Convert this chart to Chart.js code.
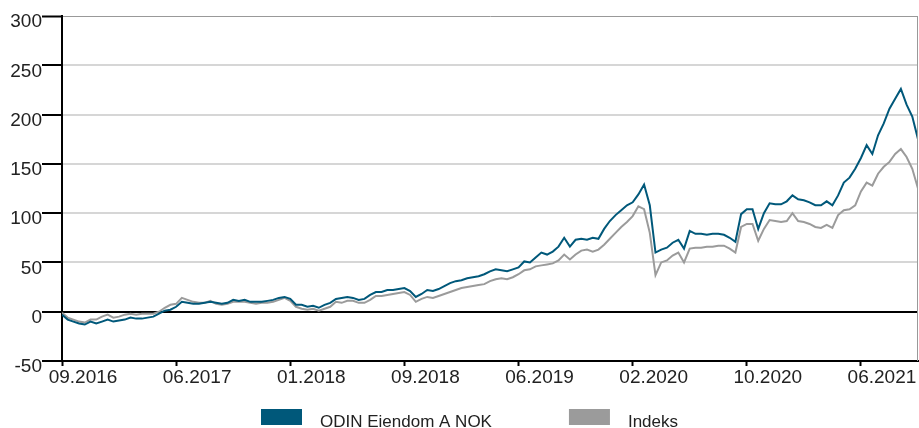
<!DOCTYPE html>
<html>
<head>
<meta charset="utf-8">
<script src="https://cdn.jsdelivr.net/npm/chart.js@4"></script>
<style>
  body { margin: 0; background: #fff; }
  canvas { display: block; }
</style>
</head>
<body>
<canvas id="chart" width="919" height="428"></canvas>
<script>
// x axis: one label every 20 points (about 8 months)
const xTickLabels = ['09.2016', '06.2017', '01.2018', '09.2018', '06.2019', '02.2020', '10.2020', '06.2021'];
const pointsPerTick = 20;

const yMin = -50;
const yMax = 300;
const yStep = 50;

const seriesNames = ['ODIN Eiendom A NOK', 'Indeks'];

// values, % return since start
const odinEiendom = [
  -3, -8, -10, -12, -13, -10, -12, -10, -8, -10,
  -9, -8, -6, -7, -7, -6, -5, -2, 1, 2,
  5, 10, 9, 8, 8, 9, 10, 9, 8, 9,
  12, 11, 12, 10, 10, 10, 11, 12, 14, 15,
  13, 7, 7, 5, 6, 4, 7, 9, 13, 14,
  15, 14, 12, 13, 17, 20, 20, 22, 22, 23,
  24, 21, 15, 18, 22, 21, 23, 26, 29, 31,
  32, 34, 35, 36, 38, 41, 43, 42, 41, 43,
  45, 51, 50, 55, 60, 58, 61, 66, 75, 66,
  73, 74, 73, 75, 74, 84, 92, 98, 103, 108,
  111, 119, 129, 108, 60, 63, 65, 70, 73, 64,
  82, 79, 79, 78, 79, 79, 78, 75, 71, 99,
  104, 104, 84, 100, 110, 109, 109, 112, 118, 114,
  113, 111, 108, 108, 112, 108, 118, 131, 136, 145,
  156, 169, 160, 179, 191, 206, 216, 226, 210, 198,
  175
];

const indeks = [
  -1, -6, -8, -10, -11, -8, -8, -5, -3, -6,
  -5, -3, -2, -3, -2, -2, -2, 0, 4, 7,
  8, 14, 12, 10, 9, 9, 11, 8, 7, 8,
  10, 10, 10, 9, 8, 9, 9, 10, 12, 14,
  11, 5, 3, 2, 3, 1, 3, 5, 10, 9,
  11, 11, 9, 9, 12, 16, 16, 17, 18, 19,
  20, 17, 10, 13, 15, 14, 16, 18, 20, 22,
  24, 25, 26, 27, 28, 31, 33, 34, 33, 35,
  38, 42, 43, 46, 47, 48, 49, 52, 58, 53,
  58, 62, 63, 61, 63, 68, 74, 80, 86, 91,
  97, 107, 104, 80, 37, 50, 52, 57, 60, 50,
  64, 65, 65, 66, 66, 67, 67, 64, 60, 86,
  89, 89, 72, 84, 93, 92, 91, 92, 100, 92,
  91, 89, 86, 85, 88, 85, 98, 103, 104, 108,
  122, 131, 128, 140, 147, 152, 160, 165, 157, 145,
  125
];

const blue = '#00587a';
const grey = '#9b9b9b';
const textColor = '#222';
const fontFamily = '"Liberation Sans", Arial, sans-serif';

function toPoints(values) {
  return values.map((v, i) => ({ x: i, y: v }));
}

// legend under the axis + grey frame on the right side
const bottomLegend = {
  id: 'bottomLegend',
  afterDraw(chart) {
    const ctx = chart.ctx;
    const area = chart.chartArea;
    ctx.save();
    ctx.strokeStyle = '#999';
    ctx.lineWidth = 1;
    ctx.beginPath();
    ctx.moveTo(area.right - 0.5, area.top);
    ctx.lineTo(area.right - 0.5, area.bottom);
    ctx.stroke();

    ctx.font = '17px ' + fontFamily;
    ctx.textBaseline = 'alphabetic';
    let x = 261;
    chart.data.datasets.forEach(ds => {
      ctx.fillStyle = ds.borderColor;
      ctx.fillRect(x, 409, 41, 16);
      ctx.fillStyle = textColor;
      ctx.fillText(ds.label, x + 59, 427);
      x += 59 + ctx.measureText(ds.label).width + 77;
    });
    ctx.restore();
  }
};

const ctx = document.getElementById('chart').getContext('2d');
const chart = new Chart(ctx, {
  type: 'line',
  data: {
    datasets: [{
      label: seriesNames[0],
      data: toPoints(odinEiendom),
      borderColor: blue,
      backgroundColor: blue,
      borderWidth: 2,
      pointRadius: 0,
      tension: 0
    }, {
      label: seriesNames[1],
      data: toPoints(indeks),
      borderColor: grey,
      backgroundColor: grey,
      borderWidth: 2,
      pointRadius: 0,
      tension: 0
    }]
  },
  options: {
    responsive: false,
    animation: false,
    layout: { padding: { top: 16, right: 1, left: 0, bottom: 0 } },
    plugins: { legend: { display: false }, tooltip: { enabled: false } },
    scales: {
      x: {
        type: 'linear',
        min: 0,
        max: odinEiendom.length - 1,
        afterBuildTicks: scale => {
          scale.ticks = xTickLabels.map((_, k) => ({ value: k * pointsPerTick }));
        },
        afterFit: scale => { scale.height = 67; },
        ticks: {
          callback: (value, index) => xTickLabels[index],
          autoSkip: false,
          maxRotation: 0,
          labelOffset: 21,
          padding: 0,
          color: textColor,
          font: { size: 19, family: fontFamily }
        },
        grid: { drawOnChartArea: false, tickLength: 5, tickColor: '#000', tickWidth: 2 },
        border: { color: '#000', width: 2 }
      },
      y: {
        min: yMin,
        max: yMax,
        afterFit: scale => { scale.width = 62; },
        ticks: {
          stepSize: yStep,
          padding: 0,
          labelOffset: 6,
          color: textColor,
          font: { size: 19, family: fontFamily }
        },
        grid: {
          color: c => c.tick.value === 0 ? '#000' : (c.tick.value === yMax ? '#999' : '#d6d6d6'),
          lineWidth: c => c.tick.value === yMax ? 1 : 2,
          tickLength: 20,
          tickColor: '#000',
          tickWidth: 2
        },
        border: { color: '#000', width: 2 }
      }
    }
  },
  plugins: [bottomLegend]
});
</script>
</body>
</html>
